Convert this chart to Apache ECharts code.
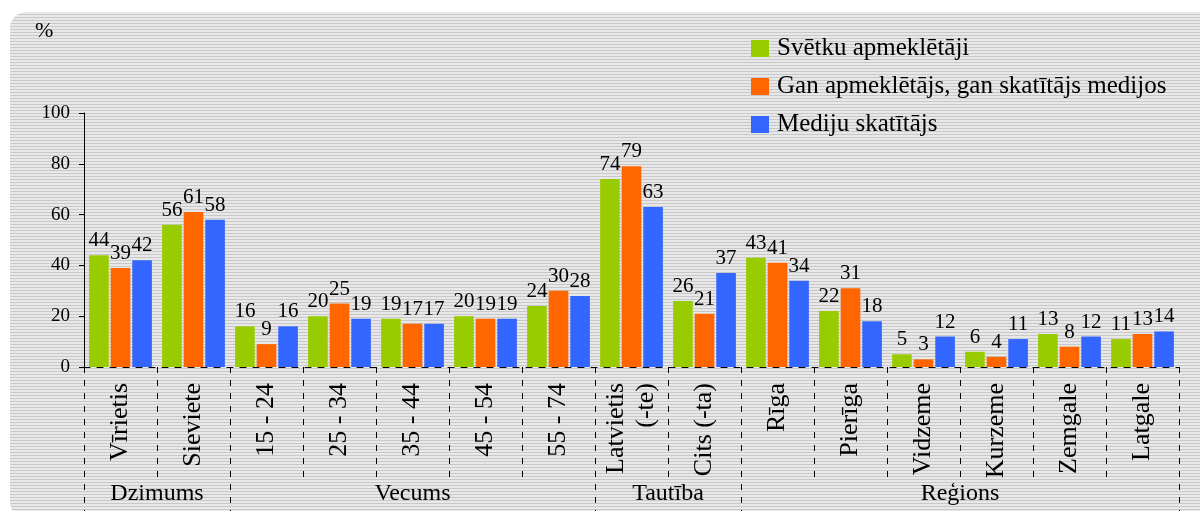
<!DOCTYPE html>
<html>
<head>
<meta charset="utf-8">
<title>Svētku apmeklētāji</title>
<script src="https://cdn.jsdelivr.net/npm/echarts@6/dist/echarts.min.js"></script>
<style>
  html, body { margin: 0; padding: 0; background: #fff; }
  #wrap { position: relative; width: 1202px; height: 511px; overflow: hidden; }
  #panel {
    position: absolute; left: 10px; top: 12px; width: 1190px; height: 506px;
    border-radius: 16px 0 0 16px;
    background: repeating-linear-gradient(to bottom, #e8e8e8 0px, #e8e8e8 2px, #c8c8c8 2px, #c8c8c8 3px);
  }
  #chart { position: absolute; left: 0; top: 0; width: 1202px; height: 511px; }
</style>
</head>
<body>
<div id="wrap">
  <div id="panel"></div>
  <div id="chart"></div>
</div>
<script>
const categories = ['Vīrietis', 'Sieviete', '15 - 24', '25 - 34', '35 - 44', '45 - 54', '55 - 74',
  'Latvietis\n(-te)', 'Cits (-ta)', 'Rīga', 'Pierīga', 'Vidzeme', 'Kurzeme', 'Zemgale', 'Latgale'];
const groupNames = ['Dzimums', 'Vecums', 'Tautība', 'Reģions'];
const groupSizes = [2, 5, 2, 6];

const festivalVisitors = [44, 56, 16, 20, 19, 20, 24, 74, 26, 43, 22, 5, 6, 13, 11];
const visitorsAndViewers = [39, 61, 9, 25, 17, 19, 30, 79, 21, 41, 31, 3, 4, 8, 13];
const mediaViewers = [42, 58, 16, 19, 17, 19, 28, 63, 37, 34, 18, 12, 11, 12, 14];

const seriesNames = ['Svētku apmeklētāji', 'Gan apmeklētājs, gan skatītājs medijos', 'Mediju skatītājs'];
const colors = ['#99cc00', '#ff6600', '#3366ff'];

// group boundaries / centres along the category axis (in category units)
let groupBounds = [0];
let groupCenters = [];
groupSizes.forEach((n) => {
  let start = groupBounds[groupBounds.length - 1];
  groupCenters.push(start + n / 2);
  groupBounds.push(start + n);
});

const font = 'Liberation Serif';
const dashed = { color: '#000', width: 1, type: [6, 7] };

var myChart = echarts.init(document.getElementById('chart'));

function barSeries(name, data, color) {
  return {
    name: name,
    type: 'bar',
    data: data,
    barCategoryGap: '14%',
    barGap: '10%',
    itemStyle: { color: color },
    label: {
      show: true,
      position: 'top',
      distance: 4,
      color: '#000',
      fontFamily: font,
      fontSize: 21,
    },
  };
}

myChart.setOption({
  textStyle: { fontFamily: font },
  title: {
    text: '%',
    left: 35,
    top: 20,
    padding: 0,
    textStyle: { fontFamily: font, fontSize: 22, fontWeight: 'normal', color: '#000' },
  },
  legend: {
    data: seriesNames,
    orient: 'vertical',
    left: 751,
    top: 36,
    padding: 0,
    icon: 'rect',
    itemWidth: 18,
    itemHeight: 17,
    itemGap: 13,
    textStyle: { fontFamily: font, fontSize: 25, color: '#000', padding: [0, 0, 0, 3] },
  },
  grid: {
    left: 84,
    right: 23,
    top: 113,
    bottom: 144,
    outerBoundsMode: 'none',
  },
  xAxis: [
    {
      type: 'category',
      data: categories,
      position: 'bottom',
      axisLine: { show: true, lineStyle: dashed },
      axisTick: { show: true, interval: 0, length: 110, lineStyle: dashed },
      axisLabel: {
        interval: 0,
        rotate: 90,
        margin: 16,
        color: '#000',
        fontFamily: font,
        fontSize: 26,
        lineHeight: 30,
      },
      splitLine: { show: false },
    },
    {
      // group row: Dzimums / Vecums / Tautība / Reģions
      type: 'value',
      position: 'bottom',
      min: 0,
      max: categories.length,
      axisLine: { show: false },
      splitLine: { show: false },
      axisTick: { show: true, customValues: groupBounds, length: 150, lineStyle: dashed },
      axisLabel: {
        customValues: groupCenters,
        formatter: (v) => groupNames[groupCenters.indexOf(v)],
        margin: 115,
        color: '#000',
        fontFamily: font,
        fontSize: 24,
      },
    },
  ],
  yAxis: {
    type: 'value',
    min: 0,
    max: 100,
    interval: 20,
    axisLine: { show: true, lineStyle: { color: '#000', width: 1 } },
    axisTick: { show: true, length: 5, lineStyle: { color: '#000' } },
    axisLabel: { color: '#000', fontFamily: font, fontSize: 19, margin: 14 },
    splitLine: { show: false },
  },
  series: [
    barSeries(seriesNames[0], festivalVisitors, colors[0]),
    barSeries(seriesNames[1], visitorsAndViewers, colors[1]),
    barSeries(seriesNames[2], mediaViewers, colors[2]),
  ],
});
</script>
</body>
</html>
